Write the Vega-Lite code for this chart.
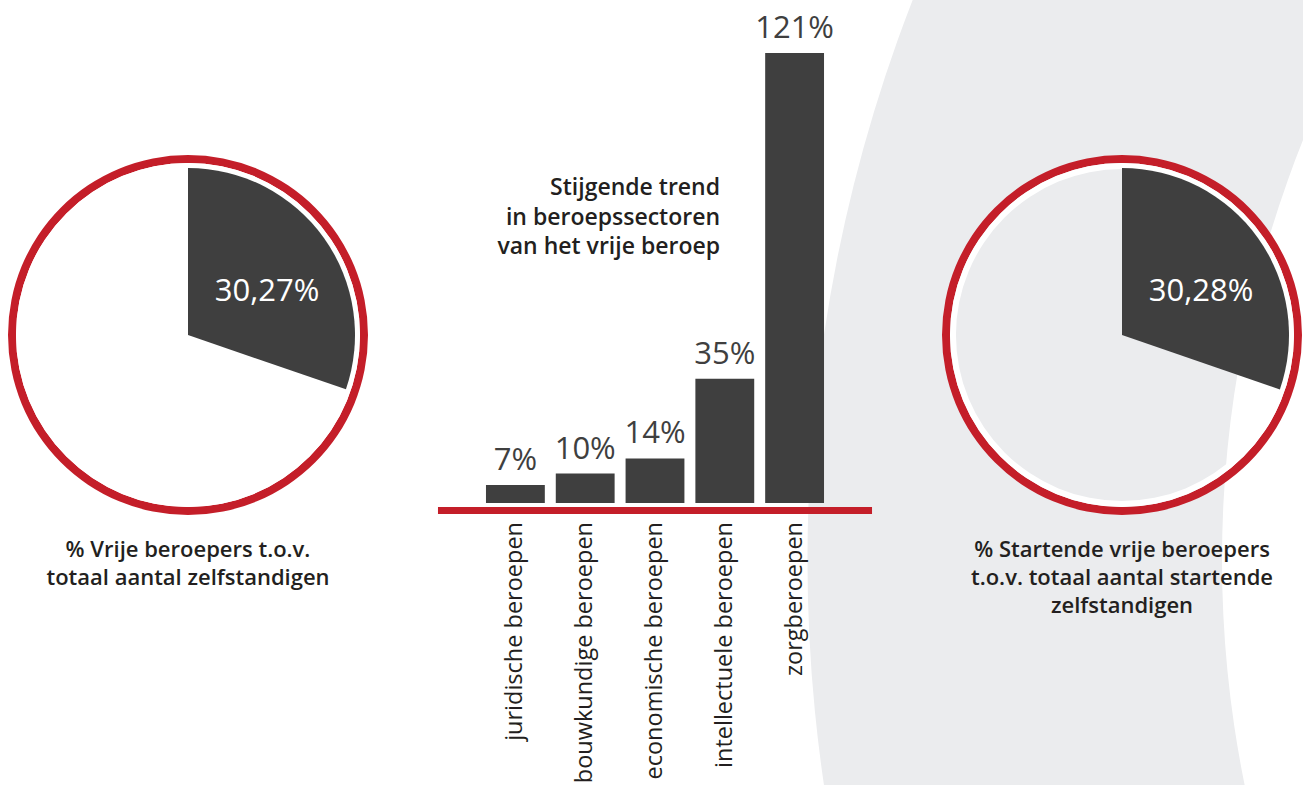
{
  "$schema": "https://vega.github.io/schema/vega-lite/v6.json",
  "width": 1303,
  "height": 785,
  "padding": 0,
  "autosize": {"type": "none"},
  "background": "#ffffff",
  "config": {"view": {"stroke": null}, "font": "Open Sans"},
  "title": {
    "text": ["Stijgende trend", "in beroepssectoren", "van het vrije beroep"],
    "orient": "top",
    "anchor": "start",
    "frame": "group",
    "align": "right",
    "baseline": "alphabetic",
    "offset": 0,
    "dx": 720,
    "dy": 277,
    "fontSize": 23,
    "fontWeight": 600,
    "color": "#231f20",
    "lineHeight": 29.5,
    "font": "Open Sans"
  },
  "datasets": {
    "achtergrond": [{"vorm": "boog"}],
    "taart": [
      {"grafiek": "Vrije beroepers", "deel": "vrije beroepers", "waarde": 30.27},
      {"grafiek": "Vrije beroepers", "deel": "overige zelfstandigen", "waarde": 69.73},
      {"grafiek": "Startende vrije beroepers", "deel": "vrije beroepers", "waarde": 30.28},
      {"grafiek": "Startende vrije beroepers", "deel": "overige zelfstandigen", "waarde": 69.72}
    ],
    "grafieken": [
      {"grafiek": "Vrije beroepers", "label": "30,27%", "onderschrift": ["% Vrije beroepers t.o.v.", "totaal aantal zelfstandigen"]},
      {"grafiek": "Startende vrije beroepers", "label": "30,28%", "onderschrift": ["% Startende vrije beroepers", "t.o.v. totaal aantal startende", "zelfstandigen"]}
    ],
    "sectoren": [
      {"sector": "juridische beroepen", "groei": 7, "label": "7%"},
      {"sector": "bouwkundige beroepen", "groei": 10, "label": "10%"},
      {"sector": "economische beroepen", "groei": 14, "label": "14%"},
      {"sector": "intellectuele beroepen", "groei": 35, "label": "35%"},
      {"sector": "zorgberoepen", "groei": 121, "label": "121%"}
    ],
    "basislijn": [{"lijn": "basis"}]
  },
  "layer": [
    {
      "data": {"name": "achtergrond"},
      "mark": {"type": "arc", "innerRadius": 1129, "outerRadius": 1543, "theta": 0, "theta2": 6.2832, "color": "#ebecee", "clip": true},
      "encoding": {
        "x": {"field": "vorm", "type": "nominal", "scale": {"type": "point", "range": [2351, 2351], "padding": 0}, "axis": null},
        "y": {"field": "vorm", "type": "nominal", "scale": {"type": "point", "range": [560, 560], "padding": 0}, "axis": null}
      }
    },
    {
      "encoding": {
        "x": {"field": "grafiek", "type": "nominal", "scale": {"type": "point", "domain": ["Vrije beroepers", "Startende vrije beroepers"], "range": [188, 1122], "padding": 0}, "axis": null},
        "y": {"field": "grafiek", "type": "nominal", "scale": {"type": "point", "range": [335, 335], "padding": 0}, "axis": null}
      },
      "layer": [
        {
          "data": {"name": "grafieken"},
          "mark": {"type": "arc", "innerRadius": 172, "outerRadius": 180, "theta": 0, "theta2": 6.2832, "color": "#c41e29"}
        },
        {
          "data": {"name": "grafieken"},
          "mark": {"type": "arc", "innerRadius": 166, "outerRadius": 172, "theta": 0, "theta2": 6.2832, "color": "#ffffff"}
        },
        {
          "data": {"name": "taart"},
          "transform": [
            {"stack": "waarde", "groupby": ["grafiek"], "sort": [{"field": "deel", "order": "descending"}], "as": ["t0", "t1"]},
            {"filter": "datum.deel === 'vrije beroepers'"}
          ],
          "mark": {"type": "arc", "outerRadius": 167, "color": "#3f3f3f"},
          "encoding": {
            "theta": {"field": "t0", "type": "quantitative", "stack": null, "scale": {"domain": [0, 100], "range": [0, 6.2832]}},
            "theta2": {"field": "t1"}
          }
        },
        {
          "data": {"name": "grafieken"},
          "mark": {"type": "text", "color": "#ffffff", "fontSize": 31, "dx": 79, "dy": -43, "baseline": "middle", "align": "center"},
          "encoding": {"text": {"field": "label"}}
        },
        {
          "data": {"name": "grafieken"},
          "mark": {"type": "text", "color": "#231f20", "fontSize": 22, "fontWeight": 600, "dy": 222, "baseline": "alphabetic", "align": "center", "lineHeight": 28},
          "encoding": {"text": {"field": "onderschrift"}}
        }
      ]
    },
    {
      "data": {"name": "sectoren"},
      "encoding": {
        "x": {"field": "sector", "type": "nominal", "sort": null, "scale": {"type": "band", "range": [479, 831], "paddingInner": 0.157, "paddingOuter": 0.1}, "axis": null}
      },
      "layer": [
        {
          "mark": {"type": "bar", "color": "#3f3f3f"},
          "encoding": {
            "y": {"field": "groei", "type": "quantitative", "scale": {"domain": [2.24, 121], "range": [503, 53], "zero": false, "nice": false, "clamp": true}, "axis": null},
            "y2": {"datum": 0}
          }
        },
        {
          "data": {"name": "basislijn"},
          "mark": {"type": "rule", "color": "#c41e29", "strokeWidth": 7, "xOffset": -48, "x2Offset": 48, "yOffset": 7.5},
          "encoding": {
            "x": {"datum": "juridische beroepen", "bandPosition": 0},
            "x2": {"datum": "zorgberoepen", "bandPosition": 1},
            "y": {"datum": 0, "type": "quantitative"}
          }
        },
        {
          "mark": {"type": "text", "color": "#3f3f3f", "fontSize": 31, "dy": -15, "baseline": "alphabetic", "align": "center"},
          "encoding": {
            "y": {"field": "groei", "type": "quantitative"},
            "text": {"field": "label"}
          }
        },
        {
          "mark": {"type": "text", "color": "#231f20", "fontSize": 23.5, "angle": 270, "align": "right", "baseline": "middle", "dx": -19},
          "encoding": {
            "y": {"datum": 0, "type": "quantitative"},
            "text": {"field": "sector"}
          }
        }
      ]
    }
  ],
  "resolve": {"scale": {"x": "independent", "y": "independent", "theta": "independent"}}
}
